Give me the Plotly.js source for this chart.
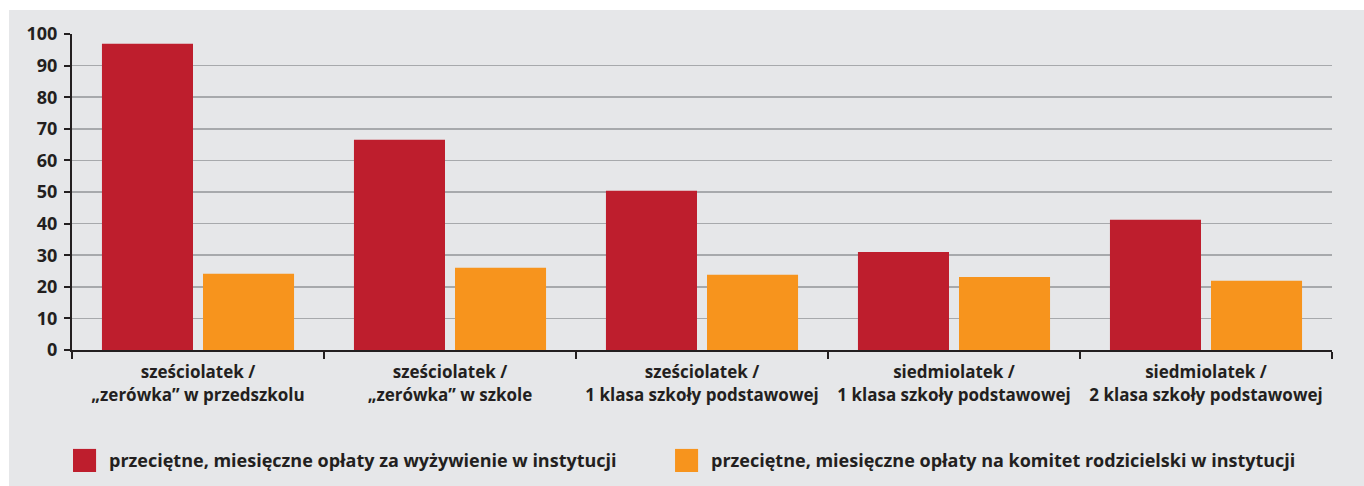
<!DOCTYPE html>
<html>
<head>
<meta charset="utf-8">
<script src="https://cdn.plot.ly/plotly-3.0.1.min.js"></script>
<style>html,body{margin:0;padding:0;background:#fff;}#chart{width:1364px;height:486px;}</style>
</head>
<body>
<div id="chart"></div>
<script>
var categories = [
  "sześciolatek /<br>„zerówka” w przedszkolu",
  "sześciolatek /<br>„zerówka” w szkole",
  "sześciolatek /<br>1 klasa szkoły podstawowej",
  "siedmiolatek /<br>1 klasa szkoły podstawowej",
  "siedmiolatek /<br>2 klasa szkoły podstawowej"
];
var seriesNames = [
  "przeciętne, miesięczne opłaty za wyżywienie w instytucji",
  "przeciętne, miesięczne opłaty na komitet rodzicielski w instytucji"
];
var foodFees = [96.9, 66.5, 50.4, 31.0, 41.2];
var committeeFees = [24.1, 26.0, 23.8, 23.1, 21.9];
var yTicks = [0, 10, 20, 30, 40, 50, 60, 70, 80, 90, 100];

var colors = ["#be1e2d", "#f7941d"];
var textColor = "#231f20";
var FONT = "'Open Sans', sans-serif";

var traces = [
  {type: "bar", x: categories, y: foodFees, name: seriesNames[0], marker: {color: colors[0]}, hoverinfo: "y"},
  {type: "bar", x: categories, y: committeeFees, name: seriesNames[1], marker: {color: colors[1]}, hoverinfo: "y"}
];

// legend drawn as shapes + annotations (large squares)
var legendX = [0.0008, 0.4786];
var shapes = [{
  type: "rect", xref: "paper", yref: "paper", layer: "below",
  x0: -0.05, x1: 1.03, y0: -0.45, y1: 1.0759,
  fillcolor: "#e6e7e9", line: {width: 0}
}];
var annotations = [];
seriesNames.forEach(function (n, i) {
  shapes.push({
    type: "rect", xref: "paper", yref: "paper",
    x0: legendX[i], x1: legendX[i] + 0.0183, y0: -0.386, y1: -0.313,
    fillcolor: colors[i], line: {width: 0}
  });
  annotations.push({
    xref: "paper", yref: "paper", x: legendX[i] + 0.027, y: -0.349,
    xanchor: "left", yanchor: "middle", showarrow: false, text: n,
    font: {family: FONT, size: 18, color: textColor, weight: 700}
  });
});

var layout = {
  width: 1364, height: 486,
  margin: {l: 72, r: 32, t: 34, b: 136, pad: 0},
  paper_bgcolor: "#ffffff",
  plot_bgcolor: "#e6e7e9",
  showlegend: false,
  barmode: "group",
  bargap: 0.198,
  bargroupgap: 0.099,
  font: {family: FONT, color: textColor},
  xaxis: {
    type: "category",
    range: [-0.5, 4.5],
    tickson: "boundaries",
    ticks: "outside", ticklen: 7, tickwidth: 2, tickcolor: textColor,
    ticklabelstandoff: 6,
    showline: true, linecolor: textColor, linewidth: 2,
    showgrid: false, zeroline: false,
    tickfont: {family: FONT, size: 17, color: textColor, weight: 700},
    fixedrange: true
  },
  yaxis: {
    range: [0, 100],
    tickmode: "array", tickvals: yTicks, ticktext: yTicks.map(String),
    ticks: "outside", ticklen: 6, tickwidth: 2, tickcolor: textColor,
    ticklabelstandoff: 3,
    showline: true, linecolor: textColor, linewidth: 2,
    showgrid: true, gridcolor: "#a7a9ac", gridwidth: 1.5,
    zeroline: false,
    tickfont: {family: FONT, size: 18, color: textColor, weight: 700},
    fixedrange: true
  },
  shapes: shapes,
  annotations: annotations
};

Plotly.newPlot("chart", traces, layout, {displayModeBar: false, staticPlot: true});
</script>
</body>
</html>
